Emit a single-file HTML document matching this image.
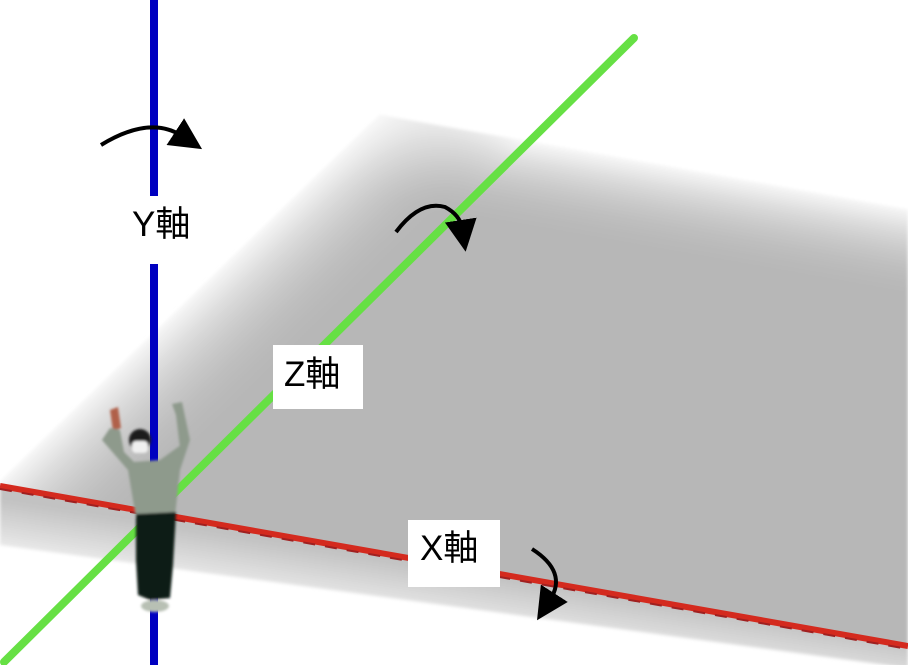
<!DOCTYPE html>
<html><head><meta charset="utf-8"><style>
html,body{margin:0;padding:0;background:#fff;width:908px;height:665px;overflow:hidden}
svg{display:block}
text{font-family:"Liberation Sans","Noto Sans CJK JP",sans-serif;font-size:35px;fill:#000}
</style></head><body>
<svg width="908" height="665" viewBox="0 0 908 665">
<defs>
<linearGradient id="gTop" gradientUnits="userSpaceOnUse" x1="640" y1="160" x2="624" y2="250">
<stop offset="0" stop-color="#fafafa" stop-opacity="1"/><stop offset="1" stop-color="#b7b7b7" stop-opacity="0"/></linearGradient>
<linearGradient id="gLeft" gradientUnits="userSpaceOnUse" x1="190" y1="298" x2="270" y2="381">
<stop offset="0" stop-color="#f8f8f8" stop-opacity="1"/><stop offset="1" stop-color="#b7b7b7" stop-opacity="0"/></linearGradient>
<linearGradient id="gBand" gradientUnits="userSpaceOnUse" x1="454" y1="570" x2="443" y2="640">
<stop offset="0" stop-color="#c2c2c2"/><stop offset="0.8" stop-color="#f2f2f2"/><stop offset="1" stop-color="#ffffff"/></linearGradient>
<filter id="soft"><feGaussianBlur stdDeviation="1.2"/></filter>
<filter id="edge"><feGaussianBlur stdDeviation="1.5"/></filter>
<marker id="ah" markerWidth="8" markerHeight="8" refX="2" refY="4" orient="auto" markerUnits="strokeWidth"><path d="M0,0 L8,4 L0,8 z" fill="#000"/></marker>
</defs>
<g filter="url(#edge)">
<polygon points="380,115 908,210 908,650 0,488 0,482" fill="#b7b7b7"/>
<polygon points="380,115 908,210 908,650 0,488 0,482" fill="url(#gTop)"/>
<polygon points="380,115 908,210 908,650 0,488 0,482" fill="url(#gLeft)"/>
<polygon points="0,486 908,646 908,668 0,545" fill="url(#gBand)"/>
</g>
<g>
<rect x="150" y="0" width="8" height="196" fill="#0000c0"/>
<rect x="150" y="264" width="8" height="401" fill="#0000c0"/>
</g>
<line x1="0" y1="486" x2="908" y2="646" stroke="#d42a1e" stroke-width="6"/>
<line x1="0" y1="489" x2="908" y2="649" stroke="#a02020" stroke-width="2" stroke-dasharray="12,10"/>
<line x1="634" y1="38" x2="4" y2="662" stroke="#66e044" stroke-width="8" stroke-linecap="round"/>
<g filter="url(#soft)">
<path d="M110,410 L118,407 L121,428 L113,431 Z" fill="#b0604a"/>
<path d="M172,404 L182,402 L190,440 L180,448 L176,415 Z" fill="#8e9a8c"/>
<path d="M102,440 L110,428 L120,430 L124,452 L134,462 L160,460 L178,447 L190,440 L180,470 L175,516 L136,518 L128,470 Z" fill="#8e9a8c"/>
<circle cx="140" cy="440" r="11" fill="#1a1a1a"/>
<rect x="132" y="441" width="16" height="12" rx="4" fill="#f0f0f0"/>
<path d="M136,514 L176,512 L173,565 L170,598 L150,600 L138,595 L136,560 Z" fill="#0f1a12"/>
<ellipse cx="155" cy="606" rx="14" ry="6" fill="#b8c0b4"/>
</g>
<rect x="130" y="198" width="72" height="46" fill="#fff"/>
<text x="132" y="236">Y軸</text>
<rect x="273" y="345" width="90" height="64" fill="#fff"/>
<text x="284" y="386">Z軸</text>
<rect x="408" y="520" width="92" height="67" fill="#fff"/>
<text x="420" y="560">X軸</text>
<g fill="none" stroke="#000" stroke-width="4">
<path d="M101,145 Q150,115 182,136" marker-end="url(#ah)"/>
<path d="M396,232 Q420,200 445,207 Q460,215 462,228" marker-end="url(#ah)"/>
<path d="M532,549 Q568,572 550,600" marker-end="url(#ah)"/>
</g>
</svg>
</body></html>
